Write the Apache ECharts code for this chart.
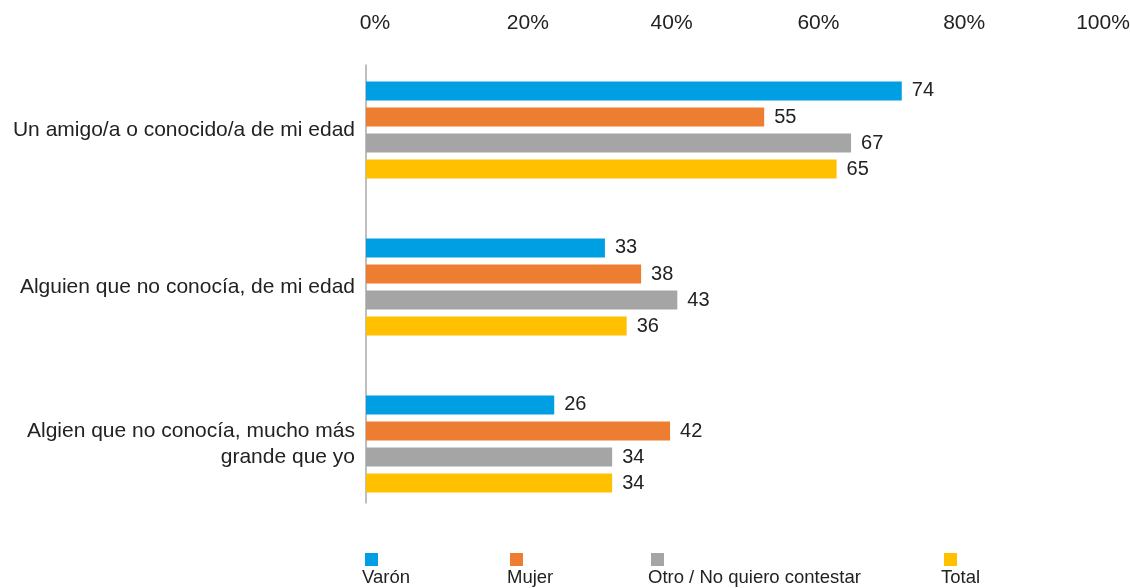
<!DOCTYPE html>
<html>
<head>
<meta charset="utf-8">
<script src="https://cdn.jsdelivr.net/npm/echarts@6/dist/echarts.min.js"></script>
<style>
html,body{margin:0;padding:0;background:#fff;}
#c{width:1130px;height:588px;}
</style>
</head>
<body>
<div id="c"></div>
<script>
const categories = [
  'Un amigo/a o conocido/a de mi edad',
  'Alguien que no conocía, de mi edad',
  'Algien que no conocía, mucho más\ngrande que yo'
];
const seriesNames = ['Varón', 'Mujer', 'Otro / No quiero contestar', 'Total'];
const varon = [74, 33, 26];
const mujer = [55, 38, 42];
const otro = [67, 43, 34];
const total = [65, 36, 34];
const tickValues = [0, 20, 40, 60, 80, 100];
const colors = ['#009FE3', '#ED7D31', '#A5A5A5', '#FFC000'];
const legendLeft = [360, 505, 646, 939];

const FONT = 'Liberation Sans';
const TXT = '#222222';
const seriesData = [varon, mujer, otro, total];

const tickPad = {0: 18, 20: 34, 40: 32, 60: 36, 80: 38, 100: 26};
const rich = {};
tickValues.forEach(v => {
  rich['t' + v] = {padding: [0, 0, 0, tickPad[v]], fontSize: 21, fontFamily: FONT, color: TXT};
});

const chart = echarts.init(document.getElementById('c'));
chart.setOption({
  animation: false,
  textStyle: {fontFamily: FONT},
  grid: [
    {left: 366, right: 40, top: 51.5, bottom: 65.5, containLabel: false, outerBoundsMode: 'none'},
    {left: 366, right: 40, top: 65, bottom: 85, containLabel: false, outerBoundsMode: 'none'}
  ],
  xAxis: [
    {
      type: 'value', position: 'top', gridIndex: 0,
      min: tickValues[0], max: tickValues[tickValues.length - 1],
      interval: tickValues[1] - tickValues[0],
      axisLine: {show: false}, axisTick: {show: false}, splitLine: {show: false},
      axisLabel: {
        margin: 18, align: 'center',
        formatter: v => '{t' + v + '|' + v + '%}',
        rich: rich
      }
    },
    {type: 'value', gridIndex: 1, min: 0, max: 1, show: false}
  ],
  yAxis: [
    {
      type: 'category', gridIndex: 0, data: categories, inverse: true,
      axisLine: {show: false}, axisTick: {show: false},
      axisLabel: {margin: 11, fontSize: 21, color: TXT, fontFamily: FONT, lineHeight: 26, align: 'right'}
    },
    {
      type: 'value', gridIndex: 1, min: 0, max: 1,
      axisLine: {show: true, lineStyle: {color: '#aaaaaa', width: 1.5}},
      axisTick: {show: false}, axisLabel: {show: false}, splitLine: {show: false}
    }
  ],
  legend: seriesNames.map((n, i) => ({
    data: [n], left: legendLeft[i], top: 553, padding: 0,
    itemWidth: 0, itemHeight: 0, selectedMode: false,
    formatter: name => '{box| }\n{lab|' + name + '}',
    textStyle: {
      rich: {
        box: {backgroundColor: colors[i], width: 13, height: 13, lineHeight: 13},
        lab: {fontSize: 18.5, fontFamily: FONT, color: TXT, lineHeight: 22, padding: [2, 0, 0, -3]}
      }
    }
  })),
  series: seriesNames.map((n, i) => ({
    name: n, type: 'bar', xAxisIndex: 0, yAxisIndex: 0,
    data: seriesData[i], barWidth: 19, barGap: '37%',
    itemStyle: {color: colors[i]},
    label: {show: true, position: 'right', distance: 10, fontSize: 20, color: TXT, fontFamily: FONT}
  }))
});
</script>
</body>
</html>
